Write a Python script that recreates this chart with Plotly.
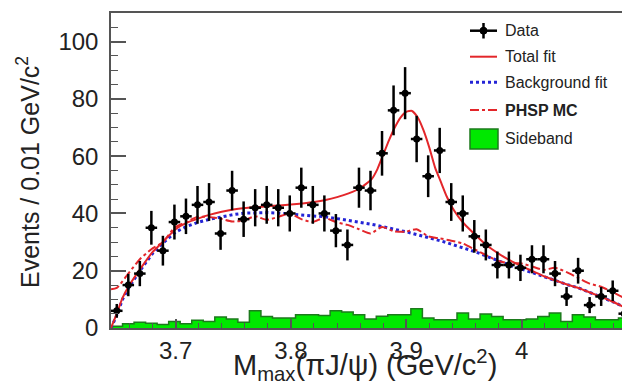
import numpy as np
import plotly.graph_objects as go

# ---------------- data ----------------
BIN_LO, BIN_W, N_BINS = 3.644, 0.01, 45

data_counts = [6, 15, 19, 35, 27, 37, 39, 43, 44, 33, 48, 38, 42, 43, 42, 40, 49, 43, 40, 34,
               29, 49, 48, 61, 76, 82, 66, 53, 62, 44, 40, 32, 29, 22, 22, 21, 24, 24, 19, 11,
               20, 8, 11, 13, 5]
data_err = [2.4, 3.9, 4.4, 5.9, 5.2, 6.1, 6.2, 6.6, 6.6, 5.7, 6.9, 6.2, 6.5, 6.6, 6.5, 6.3, 7.0, 6.6,
            6.3, 5.8, 5.4, 7.0, 6.9, 7.8, 8.7, 9.1, 8.1, 7.3, 7.9, 6.6, 6.3, 5.7, 5.4, 4.7, 4.7, 4.6,
            4.9, 4.9, 4.4, 3.3, 4.5, 2.8, 3.3, 3.6, 2.2]
sideband = [0.6, 1.5, 2.0, 1.7, 1.2, 2.3, 1.5, 2.7, 2.3, 3.8, 3.1, 2.0, 6.0, 4.0, 3.5, 3.5, 4.6, 4.6,
            4.4, 6.0, 5.6, 4.6, 3.1, 4.1, 4.6, 4.6, 6.7, 3.5, 2.9, 2.9, 5.2, 3.1, 4.9, 4.0, 2.9, 2.9,
            3.1, 4.0, 5.2, 2.3, 4.6, 3.8, 2.9, 2.9, 3.5]

fit_m = [3.644, 3.649, 3.654, 3.66, 3.67, 3.68, 3.69, 3.70, 3.71, 3.72, 3.73, 3.74, 3.75, 3.76,
         3.77, 3.78, 3.79, 3.80, 3.81, 3.82, 3.83, 3.84, 3.85, 3.86, 3.87, 3.875, 3.88, 3.885,
         3.89, 3.895, 3.90, 3.905, 3.91, 3.915, 3.92, 3.925, 3.93, 3.935, 3.94, 3.945, 3.95,
         3.96, 3.97, 3.98, 3.99, 4.00, 4.01, 4.02, 4.03, 4.04, 4.05, 4.06, 4.07, 4.08, 4.09, 4.094]
total_fit = [0, 5, 10.5, 15, 21, 26.5, 30.5, 34.5, 36.8, 38.3, 39.6, 40.6, 41.4, 41.9,
             42.2, 42.5, 42.8, 43.1, 43.5, 44.0, 44.7, 45.7, 47.0, 48.8, 52.0, 55.5, 60.5, 65.5,
             70.0, 73.5, 75.5, 75.8, 73.5, 69.0, 63.0, 56.0, 51.0, 46.0, 42.0, 39.0, 36.5,
             32.5, 28.8, 26.0, 23.6, 21.6, 19.8, 18.0, 16.5, 15.1, 13.9, 12.3, 10.7, 9.0, 7.1, 6.3]
bkg_fit = [0, 4.5, 10, 14.5, 20.5, 26, 30, 33.5, 35.5, 37.0, 38.0, 38.9, 39.6, 40.1,
           40.3, 40.3, 40.1, 39.8, 39.5, 39.2, 38.8, 38.2, 37.6, 37.0, 36.2, 35.8, 35.3, 34.8,
           34.4, 34.0, 33.6, 33.1, 32.6, 32.1, 31.6, 31.0, 30.4, 29.8, 29.2, 28.6, 28.0,
           26.6, 25.0, 23.4, 21.9, 20.6, 19.2, 17.8, 16.5, 15.1, 13.9, 12.3, 10.7, 9.0, 7.1, 6.3]

phsp_m = [3.644, 3.649, 3.659, 3.669, 3.679, 3.689, 3.699, 3.709, 3.719, 3.729, 3.739, 3.749,
          3.759, 3.769, 3.779, 3.789, 3.799, 3.809, 3.819, 3.829, 3.839, 3.849, 3.859, 3.869,
          3.879, 3.889, 3.899, 3.909, 3.919, 3.929, 3.939, 3.949, 3.959, 3.969, 3.979, 3.989,
          3.999, 4.009, 4.019, 4.029, 4.039, 4.049, 4.059, 4.069, 4.079, 4.089, 4.094]
phsp_mc = [13.5, 14, 19, 24, 27.5, 30, 35, 37, 38.8, 38.8, 38.2, 37.2,
           37.5, 39, 37.8, 38.8, 40, 38, 37, 38.5, 37, 36, 34.5, 33,
           35.3, 33.8, 33.6, 34.5, 32, 31.3, 30.5, 29.5, 27.5, 25.5, 23.5, 22.6,
           22.6, 21.5, 20.3, 21, 19.5, 17.5, 15.5, 14.4, 12.5, 10.5, 9.8]

x_tickvals = [3.7, 3.8, 3.9, 4.0]
x_ticktext = ["3.7", "3.8", "3.9", "4"]
y_tickvals = [0, 20, 40, 60, 80, 100]

legend_labels = ["Data", "Total fit", "Background fit", "<b>PHSP MC</b>", "Sideband"]

# ---------------- geometry / style ----------------
# the page body has an 8px margin, so the figure is laid out 8px up/left
OFF = 8
W, H = 630 - OFF, 388 - OFF
ML, MR, MT, MB = 111 - OFF, 0, 13 - OFF, 60
PW, PH = W - ML - MR, H - MT - MB
FONT = "Liberation Sans, Arial, Helvetica, sans-serif"
RED = "#e3262a"
BLUE = "#2424d6"
GREEN = "#00e800"
DKGREEN = "#1d7a1d"
AXC = "#555555"


def px(xp):
    return (xp - OFF - ML) / PW


def py(yp):
    return (H - MB - (yp - OFF)) / PH


edges = BIN_LO + BIN_W * np.arange(N_BINS + 1)
centers = BIN_LO + BIN_W * (np.arange(N_BINS) + 0.5)

fig = go.Figure()

fig.add_trace(go.Scatter(
    x=edges, y=list(sideband) + [sideband[-1]], mode="lines", line_shape="hv",
    line=dict(color=DKGREEN, width=1.5), fill="tozeroy", fillcolor=GREEN,
    showlegend=False, hoverinfo="skip"))

fig.add_trace(go.Scatter(
    x=fit_m, y=bkg_fit, mode="lines", line=dict(color=BLUE, width=3, dash="dot"),
    showlegend=False))

fig.add_trace(go.Scatter(
    x=phsp_m, y=phsp_mc, mode="lines", line=dict(color=RED, width=2, dash="dashdot", shape="spline",
                                                  smoothing=0.6),
    showlegend=False))

fig.add_trace(go.Scatter(
    x=fit_m, y=total_fit, mode="lines", line=dict(color=RED, width=2, shape="spline", smoothing=0.5),
    showlegend=False))

fig.add_trace(go.Scatter(
    x=centers, y=data_counts, mode="markers",
    marker=dict(color="black", size=7, symbol="circle"),
    error_y=dict(type="data", array=data_err, color="black", thickness=2.5, width=0),
    error_x=dict(type="constant", value=BIN_W / 2, color="black", thickness=2.5, width=0),
    showlegend=False))

fig.update_xaxes(
    range=[BIN_LO, BIN_LO + BIN_W * N_BINS], showgrid=False, zeroline=False, automargin=False,
    showline=True, linecolor=AXC, linewidth=1.5, mirror=True,
    tickmode="array", tickvals=x_tickvals, ticktext=x_ticktext,
    ticks="inside", ticklen=9, tickwidth=1.5, tickcolor=AXC,
    minor=dict(tick0=3.7, dtick=0.02, ticks="inside", ticklen=5, tickwidth=1.2, tickcolor=AXC),
    tickfont=dict(family=FONT, size=24, color="#222222"), ticklabelstandoff=0)

fig.update_yaxes(
    range=[0, 110], showgrid=False, zeroline=False, automargin=False,
    showline=True, linecolor=AXC, linewidth=1.5, mirror=False,
    tickmode="array", tickvals=y_tickvals,
    ticks="inside", ticklen=15, tickwidth=1.5, tickcolor=AXC,
    minor=dict(tick0=0, dtick=5, ticks="inside", ticklen=7, tickwidth=1.2, tickcolor=AXC),
    tickfont=dict(family=FONT, size=24, color="#222222"), ticklabelstandoff=6)

annotations = [
    dict(text="M<sub>max</sub>(πJ/ψ) (GeV/c<sup>2</sup>)", xref="paper", yref="paper",
         x=px(365), y=py(365), xanchor="center", yanchor="middle", showarrow=False,
         font=dict(family=FONT, size=29, color="#222222")),
    dict(text="Events / 0.01 GeV/c<sup>2</sup>", xref="paper", yref="paper",
         x=px(28), y=py(172), xanchor="center", yanchor="middle", textangle=-90, showarrow=False,
         font=dict(family=FONT, size=25, color="#222222")),
]

leg_y = [30.7, 56.7, 82.3, 110, 138]
for lab, yy in zip(legend_labels, leg_y):
    annotations.append(dict(text=lab, xref="paper", yref="paper", x=px(503), y=py(yy),
                            xanchor="left", yanchor="middle", showarrow=False,
                            font=dict(family=FONT, size=16, color="#222222")))

shapes = [
    dict(type="line", xref="paper", yref="paper", x0=px(470), x1=px(497), y0=py(30.7), y1=py(30.7),
         line=dict(color="black", width=2.5)),
    dict(type="line", xref="paper", yref="paper", x0=px(483.5), x1=px(483.5), y0=py(23), y1=py(38.5),
         line=dict(color="black", width=2.5)),
    dict(type="circle", xref="paper", yref="paper", x0=px(480), x1=px(487), y0=py(27.2), y1=py(34.2),
         fillcolor="black", line=dict(color="black", width=1)),
    dict(type="line", xref="paper", yref="paper", x0=px(470), x1=px(497), y0=py(56.7), y1=py(56.7),
         line=dict(color=RED, width=2)),
    dict(type="line", xref="paper", yref="paper", x0=px(470), x1=px(497), y0=py(82.3), y1=py(82.3),
         line=dict(color=BLUE, width=3, dash="dot")),
    dict(type="line", xref="paper", yref="paper", x0=px(470), x1=px(497), y0=py(110), y1=py(110),
         line=dict(color=RED, width=2, dash="dashdot")),
    dict(type="rect", xref="paper", yref="paper", x0=px(470), x1=px(498), y0=py(149), y1=py(129),
         fillcolor=GREEN, line=dict(color=DKGREEN, width=1.5)),
]

fig.update_layout(
    width=W, height=H, margin=dict(l=ML, r=MR, t=MT, b=MB, pad=0, autoexpand=False),
    paper_bgcolor="white", plot_bgcolor="white", showlegend=False,
    annotations=annotations, shapes=shapes, font=dict(family=FONT))

fig.write_html("out.html")
